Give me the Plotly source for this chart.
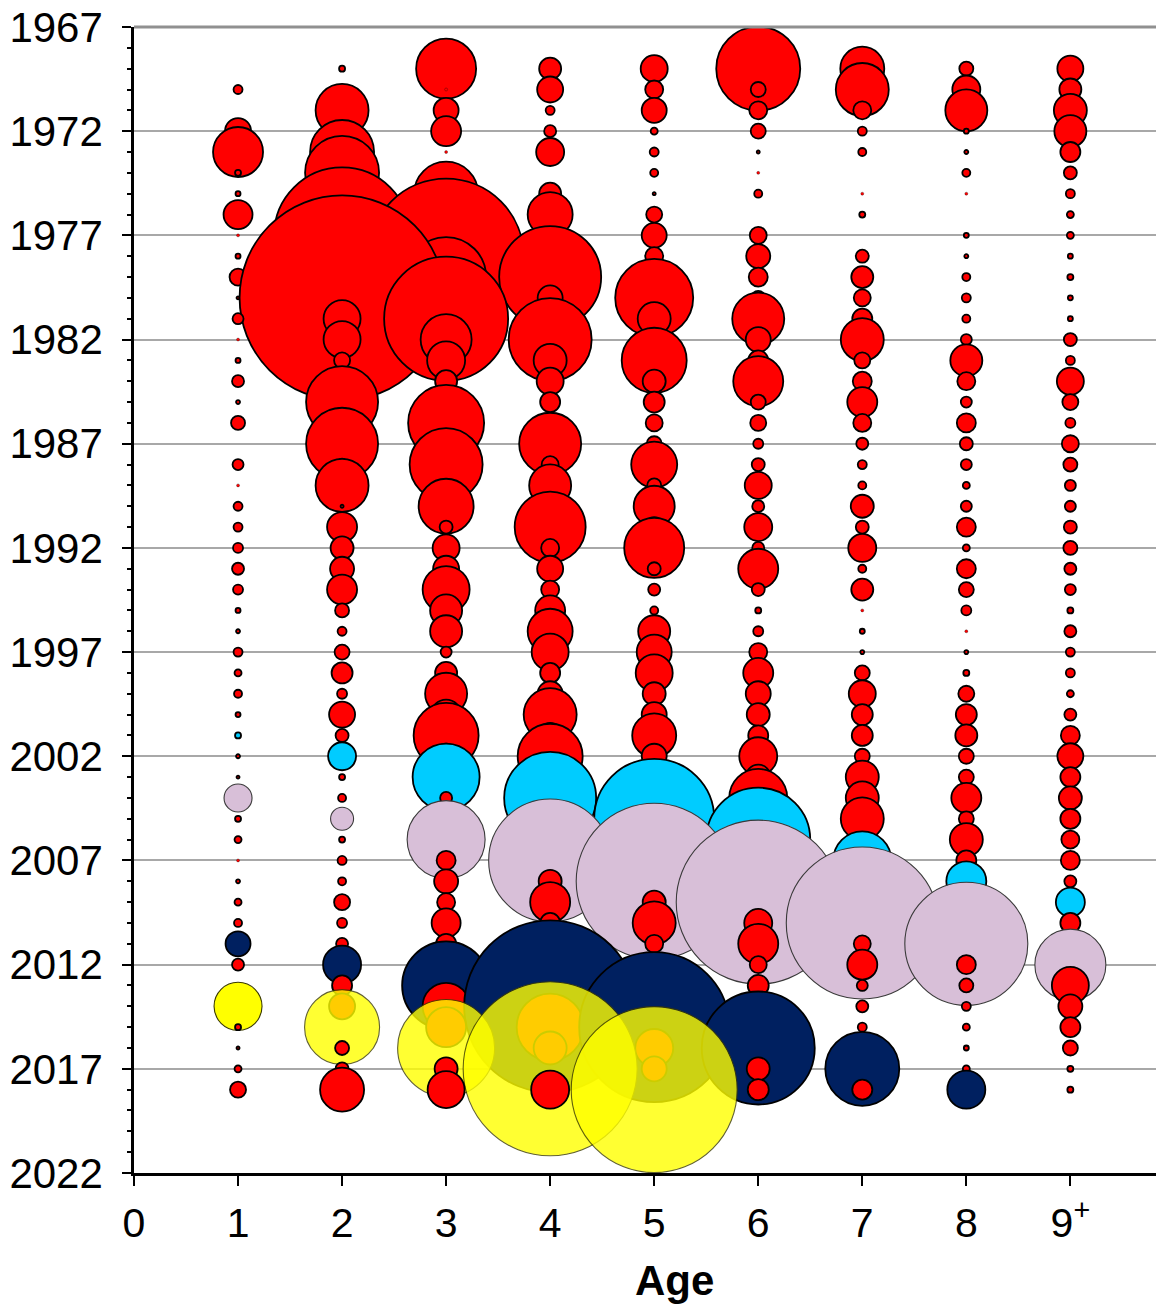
import plotly.graph_objects as go

# ---------------- data ----------------
years = list(range(1969, 2019))
ages = [1, 2, 3, 4, 5, 6, 7, 8, 9]
age_labels = ["0", "1", "2", "3", "4", "5", "6", "7", "8", "9<sup>+</sup>"]
year_ticks = list(range(1967, 2023, 5))

# relative abundance index per age (1969..2018)
age1 = [0, 0.81, 0, 6.76, 25, 0.36, 0.25, 8.41, 0.01, 0.25,
        2.89, 0.09, 1.21, 0.01, 0.25, 1.44, 0.16, 1.96, 0, 1.21,
        0.04, 0.81, 0.81, 1.0, 1.44, 1.0, 0.25, 0.16, 0.81, 0.49,
        0.64, 0.25, 0.36, 0.16, 0.09, 7.84, 0.36, 0.49, 0.04, 0.16,
        0.49, 0.64, 6.25, 1.44, 0, 23.04, 0.36, 0.09, 0.49, 2.56]
age2 = [0.36, 0.16, 28.09, 4.0, 40.96, 54.76, 25.0, 81.0, 184.96, 121.0,
        225.0, 420.25, 13.69, 13.69, 2.56, 6.25, 51.84, 9.0, 51.84, 1.44,
        28.09, 0.09, 9.0, 5.29, 5.76, 9.0, 1.96, 0.81, 2.25, 4.41,
        1.0, 6.76, 1.69, 7.84, 0.36, 0.64, 5.29, 0.36, 0.81, 0.64,
        2.56, 1.0, 1.44, 14.44, 4.0, 6.76, 56.25, 1.96, 1.69, 19.36]
age3 = [36.0, 0.04, 6.25, 9.0, 0.04, 2.25, 40.96, 25.0, 81.0, 240.25,
        64.0, 49.0, 153.76, 26.01, 14.44, 4.84, 9.0, 57.76, 6.25, 53.29,
        0.64, 30.25, 1.69, 7.29, 6.76, 22.09, 10.24, 10.24, 1.21, 4.84,
        17.64, 9.0, 42.25, 6.25, 44.89, 1.44, 1.0, 60.84, 3.61, 5.76,
        3.24, 8.41, 4.0, 16.0, 77.44, 22.09, 16.0, 94.09, 5.29, 13.69]
age4 = [4.84, 6.76, 0.81, 1.44, 7.84, 0, 4.84, 20.25, 1.0, 16.0,
        104.04, 6.25, 2.25, 68.89, 10.89, 7.29, 4.0, 2.25, 38.44, 2.89,
        17.64, 6.25, 50.41, 3.24, 6.76, 3.24, 9.0, 20.25, 13.69, 4.0,
        6.25, 28.09, 6.25, 42.25, 9.0, 84.64, 4.0, 16.0, 151.29, 5.29,
        16.0, 4.0, 4.0, 16.0, 36.0, 295.84, 44.89, 10.89, 302.76, 14.44]
age5 = [7.29, 3.24, 6.25, 0.49, 0.81, 0.64, 0.09, 2.56, 6.25, 3.24,
        5.76, 60.84, 10.89, 5.76, 42.25, 5.29, 4.41, 2.89, 2.25, 21.16,
        1.96, 16.81, 4.0, 36.0, 1.69, 1.44, 0.64, 10.24, 12.25, 13.69,
        5.29, 6.25, 19.36, 6.25, 6.25, 16.0, 144.0, 16.0, 36.0, 243.36,
        5.29, 18.49, 3.24, 5.76, 25.0, 49.0, 225.0, 14.44, 6.25, 275.56]
age6 = [70.56, 2.25, 3.24, 2.25, 0.09, 0.01, 0.64, 0, 2.89, 5.76,
        3.61, 1.96, 27.04, 6.25, 4.0, 25.0, 2.25, 2.56, 1.0, 1.69,
        7.29, 1.44, 7.84, 1.44, 16.0, 1.69, 0.36, 1.0, 3.24, 9.0,
        6.25, 5.29, 4.0, 14.44, 6.25, 33.64, 9.0, 108.16, 36.0, 64.0,
        268.96, 7.84, 16.0, 2.89, 4.41, 6.25, 36.0, 127.69, 5.29, 4.41]
age7 = [19.36, 28.09, 3.24, 0.81, 0.64, 0, 0.01, 0.36, 0, 1.69,
        4.84, 2.89, 4.0, 18.49, 2.56, 3.61, 9.0, 3.24, 1.44, 0.81,
        0.64, 5.29, 1.69, 7.84, 0.64, 4.84, 0.01, 0.25, 0.16, 2.25,
        7.29, 4.41, 4.41, 2.25, 10.89, 10.89, 18.49, 2.25, 33.64, 9.0,
        16.0, 231.04, 2.89, 9.0, 1.21, 1.44, 0.81, 2.25, 54.76, 4.0]
age8 = [1.96, 7.84, 17.64, 0.25, 0.16, 0.64, 0.01, 0, 0.25, 0.16,
        0.64, 0.81, 0.64, 1.21, 10.24, 3.24, 1.21, 3.61, 1.69, 1.21,
        0.49, 1.21, 3.61, 0.49, 3.61, 2.25, 1.0, 0.04, 0.16, 0.36,
        2.56, 4.41, 4.84, 2.25, 2.25, 9.0, 2.25, 10.89, 4.0, 16.0,
        9.0, 16.0, 151.29, 3.61, 1.96, 0.81, 0.49, 0.25, 0.49, 14.44]
age9 = [6.76, 4.84, 10.89, 10.24, 4.0, 1.69, 0.81, 0.49, 0.49, 0.25,
        0.36, 0.25, 0.25, 1.69, 0.81, 7.29, 2.56, 1.0, 2.89, 1.96,
        1.21, 1.21, 1.69, 1.96, 1.44, 1.21, 0.36, 1.44, 0.81, 0.81,
        0.49, 1.44, 3.61, 6.76, 4.0, 5.29, 4.0, 3.24, 3.61, 1.44,
        8.41, 4.0, 2.25, 50.41, 13.69, 5.76, 4.0, 2.25, 0.36, 0.36]

# highlighted year classes
highlight = {2000: "#00CCFF", 2003: "#D8BFD8", 2010: "#002060", 2013: "#FFFF00"}

# ---------------- build points (drawn in year order) ----------------
series = [age1, age2, age3, age4, age5, age6, age7, age8, age9]
pts = []
for a, vals in zip(ages, series):
    for y, v in zip(years, vals):
        if v > 0:
            pts.append((y, a, v))
pts.sort()

xs, ys, vs, fills, lcols, lwid, ops = [], [], [], [], [], [], []
for y, a, v in pts:
    yc = y - a
    fill = highlight.get(yc, "#FF0000")
    xs.append(a)
    ys.append(y)
    vs.append(v)
    fills.append(fill)
    if yc == 2003:
        lcols.append("#3A3A3A"); lwid.append(1.1)
    elif yc == 2013:
        lcols.append("#3A3A00"); lwid.append(1.1)
    else:
        lcols.append("#000000"); lwid.append(1.8 if v >= 0.05 else 0.3)
    ops.append(0.8 if (yc == 2013 and a > 1) else 1.0)

fig = go.Figure()
fig.add_trace(go.Scatter(
    x=xs, y=ys, mode="markers",
    marker=dict(size=vs, sizemode="area", sizeref=0.02, sizemin=1.5,
                color=fills, opacity=ops,
                line=dict(color=lcols, width=lwid)),
    hoverinfo="skip", showlegend=False,
))

# the page body adds an 8 px offset; figure sized so the chart fills the window
font_family = "Liberation Sans, Arial, sans-serif"
fig.update_layout(
    width=1156, height=1298,
    margin=dict(l=126, r=0, t=19, b=133),
    paper_bgcolor="white", plot_bgcolor="white",
    font=dict(family=font_family, color="black"),
    xaxis=dict(range=[0, 9.9], tickvals=list(range(0, 10)), ticktext=age_labels,
               ticks="outside", ticklen=10, tickwidth=1.5, tickcolor="black",
               showline=True, linecolor="black", linewidth=2.5,
               showgrid=False, zeroline=False, automargin=False,
               ticklabeloverflow="allow",
               tickfont=dict(size=41, family=font_family), ticklabelstandoff=2),
    yaxis=dict(range=[2022, 1967], tickvals=year_ticks,
               ticks="outside", ticklen=9, tickwidth=1.5, tickcolor="black",
               minor=dict(dtick=1, ticks="outside", ticklen=4, tickcolor="black", showgrid=False),
               showline=True, linecolor="black", linewidth=2.5,
               showgrid=True, gridcolor="#A8A8A8", gridwidth=2, zeroline=False,
               automargin=False, ticklabeloverflow="allow",
               tickfont=dict(size=42, family=font_family), ticklabelstandoff=11),
    shapes=[dict(type="line", xref="paper", yref="paper", x0=0, x1=1, y0=1, y1=1,
                 line=dict(color="#909090", width=3), layer="above")],
    annotations=[dict(text="<b>Age</b>", x=(674 - 134) / (1164 - 134), xref="paper",
                      y=-107 / 1146, yref="paper", yanchor="middle", showarrow=False,
                      font=dict(size=42, family=font_family))],
)
fig.write_html("out.html")
